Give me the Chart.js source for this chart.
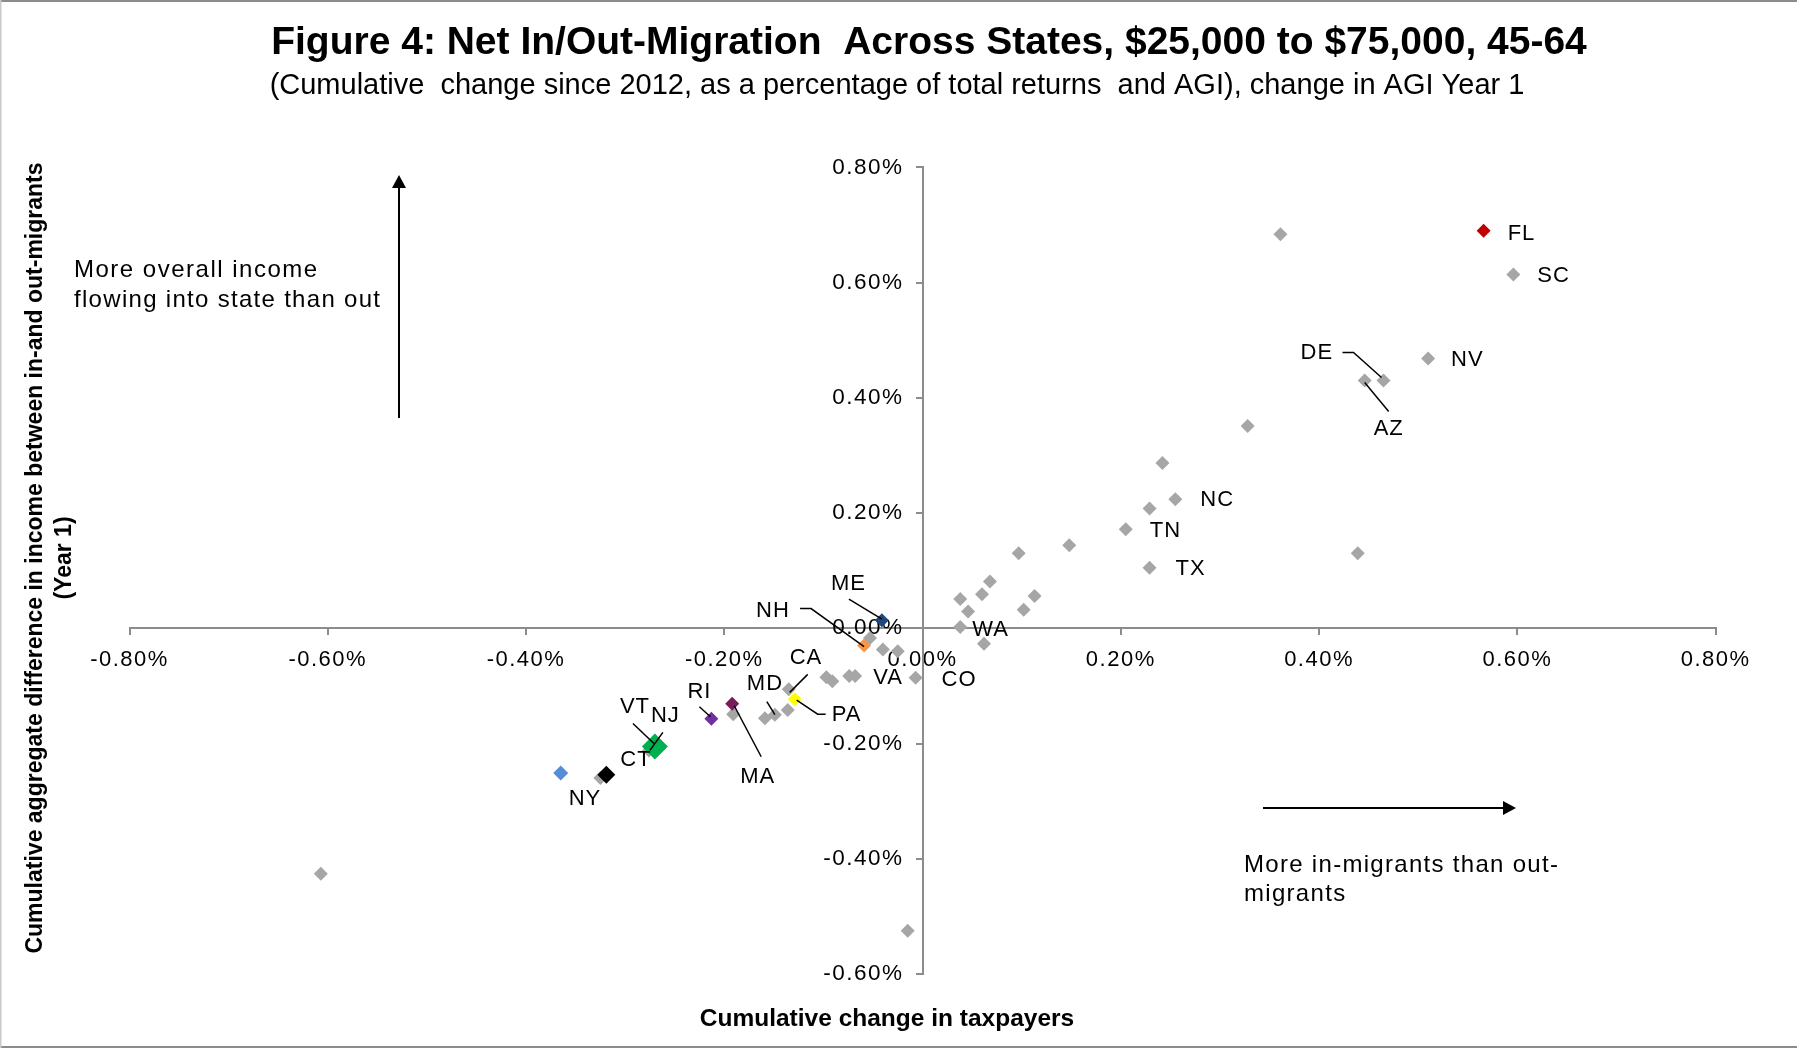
<!DOCTYPE html>
<html lang="en">
<head>
  <meta charset="UTF-8" />
  <title>Figure 4: Net In/Out-Migration Across States</title>
  <script src="https://cdn.jsdelivr.net/npm/chart.js"></script>
  <style>
    html, body { margin: 0; padding: 0; background: #fff; }
    #wrap { width: 1797px; height: 1048px; }
    canvas { display: block; }
  </style>
</head>
<body>
  <div id="wrap"><canvas id="migrationChart" width="1797" height="1048"></canvas></div>

  <script>
    // state codes, '' = state left unlabelled in the figure
    const states = ['FL', 'SC', 'NV', 'DE', 'AZ', '', '', '', 'NC', '', 'TN', 'TX', '', '', '', '', '', '', '', '', '', 'WA', '',
                    'ME', 'NH', '', '', '', 'CO', 'VA', '', '', '', 'CA', 'PA', 'MD', '', '', 'MA', '', 'RI', 'NJ', 'VT', 'CT', '', 'NY', '', ''];
    // cumulative change in taxpayers (%)
    const taxpayerChange = [0.566, 0.596, 0.510, 0.465, 0.446, 0.361, 0.328, 0.242, 0.255, 0.229, 0.205, 0.229, 0.439, 0.148, 0.097, 0.068, 0.060, 0.038, 0.046, 0.113, 0.102, 0.038, 0.062,
                            -0.041, -0.059, -0.053, -0.040, -0.025, -0.007, -0.068, -0.074, -0.097, -0.091, -0.135, -0.129, -0.149, -0.136, -0.159, -0.192, -0.191, -0.213, -0.270, -0.276, -0.319, -0.325, -0.365, -0.607, -0.015];
    // cumulative aggregate difference in income, year 1 (%)
    const incomeChange = [0.690, 0.614, 0.468, 0.430, 0.430, 0.684, 0.351, 0.287, 0.224, 0.208, 0.172, 0.105, 0.130, 0.144, 0.130, 0.081, 0.059, 0.051, 0.029, 0.056, 0.032, 0.002, -0.027,
                          0.014, -0.030, -0.017, -0.037, -0.040, -0.086, -0.083, -0.083, -0.085, -0.092, -0.106, -0.123, -0.150, -0.142, -0.156, -0.131, -0.149, -0.157, -0.205, -0.212, -0.254, -0.260, -0.251, -0.426, -0.525];

    const xTicks = [-0.8, -0.6, -0.4, -0.2, 0, 0.2, 0.4, 0.6, 0.8];
    const yTicks = [-0.6, -0.4, -0.2, 0, 0.2, 0.4, 0.6, 0.8];

    // highlighted states: colour and marker radius
    const highlight = {
      FL: { color: '#c00000', r: 7 },
      ME: { color: '#1f497d', r: 7 },
      NH: { color: '#f79646', r: 7 },
      PA: { color: '#ffff00', r: 7 },
      MA: { color: '#7a1c5a', r: 7 },
      RI: { color: '#7030a0', r: 7 },
      NJ: { color: '#00b050', r: 13 },
      CT: { color: '#000000', r: 9 },
      NY: { color: '#558ed5', r: 7.5 }
    };
    const GRAY = '#a6a6a6';
    const FONT = "'Liberation Sans', Arial, sans-serif";

    // label offsets from the marker (px), optional leader line points
    const labelPos = {
      FL: { dx: 24, dy: 3 },
      SC: { dx: 24, dy: 1 },
      NV: { dx: 23, dy: 1 },
      DE: { dx: -83, dy: -28, line: [[-41, -28], [-30, -28], [-2, -3]] },
      AZ: { dx: 9, dy: 48, line: [[0, 2], [24, 31]] },
      NC: { dx: 25, dy: 1 },
      TN: { dx: 24, dy: 2 },
      TX: { dx: 26, dy: 1 },
      WA: { dx: 12, dy: 3 },
      CO: { dx: 26, dy: 2 },
      VA: { dx: 18, dy: 2 },
      ME: { dx: -51, dy: -36, line: [[-33, -21], [0, -1]] },
      NH: { dx: -108, dy: -35, line: [[-64, -37], [-53, -37], [0, 1]] },
      CA: { dx: 1, dy: -31, line: [[19, -15], [1, 3]] },
      PA: { dx: 37, dy: 16, line: [[2, 1], [23, 15], [31, 15]] },
      MD: { dx: -28, dy: -31, line: [[-8, -13], [0, 0]] },
      MA: { dx: 8, dy: 73, line: [[2, 2], [29, 53]] },
      RI: { dx: -24, dy: -27, line: [[-12, -12], [-1, -2]] },
      NJ: { dx: -4, dy: -30, line: [[8, -14], [-5, 4]] },
      VT: { dx: -29, dy: -43, line: [[-16, -27], [5, -7]] },
      CT: { dx: 14, dy: -15 },
      NY: { dx: 8, dy: 26 }
    };

    const grayPts = [], hiPts = [], hiColors = [], hiRadius = [];
    states.forEach((s, i) => {
      const p = { x: taxpayerChange[i], y: incomeChange[i], state: s };
      if (highlight[s]) {
        hiPts.push(p);
        hiColors.push(highlight[s].color);
        hiRadius.push(highlight[s].r);
      } else {
        grayPts.push(p);
      }
    });

    function pct(v) {
      if (Math.abs(v) < 1e-9) v = 0;
      return v.toFixed(2) + '%';
    }

    function text(ctx, str, x, y, font, align, spacing) {
      ctx.save();
      ctx.font = font;
      ctx.letterSpacing = (spacing || 0) + 'px';
      ctx.fillStyle = '#000';
      ctx.textAlign = align || 'left';
      ctx.textBaseline = 'middle';
      ctx.fillText(str, x, y);
      ctx.restore();
    }

    function arrow(ctx, x1, y1, x2, y2) {
      const a = Math.atan2(y2 - y1, x2 - x1);
      const len = 13, half = 7;
      ctx.save();
      ctx.strokeStyle = '#000';
      ctx.fillStyle = '#000';
      ctx.lineWidth = 2;
      ctx.beginPath();
      ctx.moveTo(x1, y1);
      ctx.lineTo(x2 - len * Math.cos(a), y2 - len * Math.sin(a));
      ctx.stroke();
      ctx.beginPath();
      ctx.moveTo(x2, y2);
      ctx.lineTo(x2 - len * Math.cos(a) + half * Math.sin(a), y2 - len * Math.sin(a) - half * Math.cos(a));
      ctx.lineTo(x2 - len * Math.cos(a) - half * Math.sin(a), y2 - len * Math.sin(a) + half * Math.cos(a));
      ctx.closePath();
      ctx.fill();
      ctx.restore();
    }

    const decorations = {
      id: 'decorations',
      beforeDraw(chart) {
        chart.ctx.letterSpacing = '1.5px';   // spaced-out tick labels as in the original
      },
      afterDatasetsDraw(chart) {
        const ctx = chart.ctx;
        const xs = chart.scales.x, ys = chart.scales.y;
        ctx.save();
        ctx.strokeStyle = '#000';
        ctx.lineWidth = 1.5;
        states.forEach((s, i) => {
          const lp = labelPos[s];
          if (!lp) return;
          const px = xs.getPixelForValue(taxpayerChange[i]);
          const py = ys.getPixelForValue(incomeChange[i]);
          if (lp.line) {
            ctx.beginPath();
            lp.line.forEach((pt, k) => {
              if (k === 0) ctx.moveTo(px + pt[0], py + pt[1]);
              else ctx.lineTo(px + pt[0], py + pt[1]);
            });
            ctx.stroke();
          }
          text(ctx, s, px + lp.dx, py + lp.dy, '22px ' + FONT, 'left', 1);
        });
        ctx.restore();
      },
      afterDraw(chart) {
        const ctx = chart.ctx;
        ctx.letterSpacing = '0px';

        text(ctx, 'Figure 4: Net In/Out-Migration  Across States, $25,000 to $75,000, 45-64', 929, 43, 'bold 39px ' + FONT, 'center', 0);
        text(ctx, '(Cumulative  change since 2012, as a percentage of total returns  and AGI), change in AGI Year 1', 897, 86, '29px ' + FONT, 'center', 0);

        text(ctx, 'Cumulative change in taxpayers', 887, 1019, 'bold 24.5px ' + FONT, 'center', 0);

        ctx.save();
        ctx.translate(36, 558);
        ctx.rotate(-Math.PI / 2);
        text(ctx, 'Cumulative aggregate difference in income between in-and out-migrants', 0, 0, 'bold 23px ' + FONT, 'center', 0);
        text(ctx, '(Year 1)', 0, 29, 'bold 23px ' + FONT, 'center', 0);
        ctx.restore();

        text(ctx, 'More overall income', 74, 270, '24px ' + FONT, 'left', 1.5);
        text(ctx, 'flowing into state than out', 74, 300, '24px ' + FONT, 'left', 1.3);
        arrow(ctx, 399, 418, 399, 175);

        text(ctx, 'More in-migrants than out-', 1244, 865, '24px ' + FONT, 'left', 1.3);
        text(ctx, 'migrants', 1244, 894, '24px ' + FONT, 'left', 1.3);
        arrow(ctx, 1263, 808, 1516, 808);

        // picture frame
        ctx.save();
        ctx.fillStyle = '#8c8c8c';
        ctx.fillRect(0, 0, chart.width, 2);
        ctx.fillRect(0, chart.height - 2, chart.width, 2);
        ctx.fillStyle = '#c8c8c8';
        ctx.fillRect(0, 0, 1.5, chart.height);
        ctx.restore();
      }
    };

    const axisStyle = {
      grid: { drawOnChartArea: false, drawTicks: true, tickLength: 6, color: '#8c8c8c', lineWidth: 2 },
      border: { color: '#8c8c8c', width: 2 }
    };

    // a y axis placed at x = 0 gets no label padding from Chart.js; add it here
    const Y_LABEL_GAP = 19;
    function padYLabels(scale) {
      if (scale._gapWrapped) return;
      const orig = scale._computeLabelItems.bind(scale);
      scale._computeLabelItems = (area) => orig(area).map(item => {
        if (item.options && item.options.translation) item.options.translation[0] -= Y_LABEL_GAP;
        return item;
      });
      scale._gapWrapped = true;
    }

    new Chart(document.getElementById('migrationChart'), {
      type: 'scatter',
      data: {
        datasets: [
          {
            label: 'Highlighted states',
            data: hiPts,
            pointStyle: 'rectRot',
            pointRadius: hiRadius,
            pointBackgroundColor: hiColors,
            pointBorderWidth: 0
          },
          {
            label: 'Other states',
            data: grayPts,
            pointStyle: 'rectRot',
            pointRadius: 7,
            pointBackgroundColor: GRAY,
            pointBorderWidth: 0
          }
        ]
      },
      options: {
        responsive: false,
        animation: false,
        devicePixelRatio: 1,
        layout: { padding: { left: 129.5, right: 81.4, top: 167.3, bottom: 74 } },
        plugins: {
          legend: { display: false },
          tooltip: { enabled: false },
          title: { display: false }
        },
        scales: {
          x: {
            type: 'linear',
            min: xTicks[0],
            max: xTicks[xTicks.length - 1],
            position: { y: 0 },
            afterFit(s) { s.height = 0; },
            afterBuildTicks(s) { s.ticks = xTicks.map(v => ({ value: v })); },
            ticks: {
              callback: pct, autoSkip: false, maxRotation: 0, padding: 12,
              color: '#000', font: { family: FONT, size: 22 }
            },
            ...axisStyle
          },
          y: {
            type: 'linear',
            min: yTicks[0],
            max: yTicks[yTicks.length - 1],
            position: { x: 0 },
            afterFit(s) { s.width = 0; padYLabels(s); },
            afterBuildTicks(s) { s.ticks = yTicks.map(v => ({ value: v })); },
            ticks: {
              callback: pct, autoSkip: false, padding: 12,
              color: '#000', font: { family: FONT, size: 22.5 }
            },
            ...axisStyle
          }
        }
      },
      plugins: [decorations]
    });
  </script>
</body>
</html>
